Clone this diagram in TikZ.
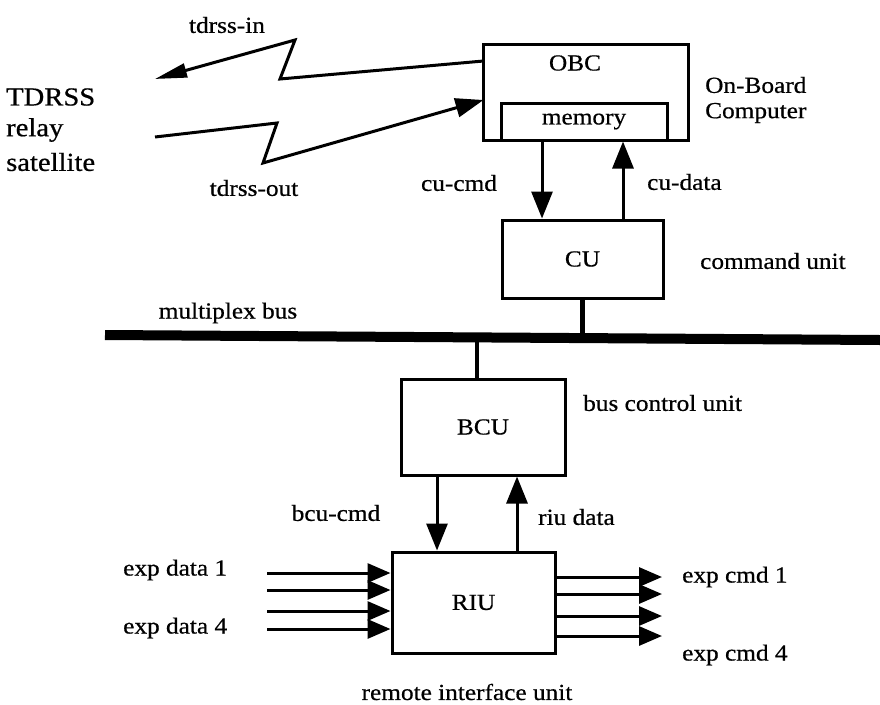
\documentclass[tikz,border=0pt]{standalone}
\usepackage{fontspec}
\setmainfont{Liberation Serif}[FakeStretch=1.1,FakeBold=0.6]
\usetikzlibrary{arrows.meta}
\begin{document}
\begin{tikzpicture}[x=1pt,y=-1pt,
  box/.style={draw,line width=3pt,inner sep=0pt,font=\fontsize{23}{26}\selectfont},
  txt/.style={inner sep=0pt,font=\fontsize{23}{26}\selectfont},
  bigtxt/.style={inner sep=0pt,anchor=west,font=\fontsize{26}{30}\selectfont},
  arr/.style={line width=3pt,-{Triangle[length=27pt,width=21pt]}},
  exparr/.style={line width=3pt,-{Triangle[length=23pt,width=19pt]}},
  zig/.style={line width=3pt,line join=miter},
  link/.style={line width=4.5pt}]
\useasboundingbox (0,0) rectangle (880,704);
% boxes
\node[box,minimum width=205pt,minimum height=96pt] (obc) at (585.5,92) {};
\node[txt] (obcl) at (575,63) {OBC};
\node[box,minimum width=166pt,minimum height=37pt] (mem) at (584,121.5) {memory};
\node[box,minimum width=161pt,minimum height=78pt] (cu) at (582.5,259) {CU};
\node[box,minimum width=164pt,minimum height=96pt] (bcu) at (483,427) {BCU};
\node[box,minimum width=163pt,minimum height=101pt] (riu) at (473.5,602.5) {RIU};
% side labels
\node[bigtxt] (t1) at (6,97) {TDRSS};
\node[bigtxt] (t2) at (6,130) {relay};
\node[bigtxt] (t3) at (6,162) {satellite};
\node[txt] (ltin) at (227,25) {tdrss-in};
\node[txt] (ltout) at (254,188) {tdrss-out};
\node[txt,anchor=west] (lob1) at (705,85) {On-Board};
\node[txt,anchor=west] (lob2) at (705,113) {Computer};
\node[txt] (lcmd) at (459,183) {cu-cmd};
\node[txt,anchor=west] (ldata) at (647,182) {cu-data};
\node[txt,anchor=west] (lcu) at (700,261) {command unit};
\node[txt] (lbus) at (228,313) {multiplex bus};
\node[txt,anchor=west] (lbcu) at (583,403) {bus control unit};
\node[txt] (lbcmd) at (336,513) {bcu-cmd};
\node[txt,anchor=west] (lriud) at (538,517) {riu data};
\node[txt,anchor=west] (led1) at (123,570) {exp data 1};
\node[txt,anchor=west] (led4) at (123,628) {exp data 4};
\node[txt,anchor=west] (lec1) at (682,577) {exp cmd 1};
\node[txt,anchor=west] (lec4) at (682,655) {exp cmd 4};
\node[txt] (lriu) at (467,692) {remote interface unit};
% bus
\coordinate (busL) at (105,335);
\coordinate (busR) at (880,340);
\draw[line width=10pt] (busL) -- (busR);
\draw[link] (cu.south) -- (cu.south |- busR);
\draw[link] ([xshift=-6pt]bcu.north) -- ([xshift=-6pt]bcu.north |- busR);
% OBC <-> CU
\draw[arr] ([xshift=-40.5pt]cu.north |- obc.south) -- ([xshift=-40.5pt]cu.north);
\draw[arr] ([xshift=40.5pt]cu.north) -- ([xshift=40.5pt]cu.north |- obc.south);
% BCU <-> RIU
\draw[arr] ([xshift=-36.5pt]riu.north |- bcu.south) -- ([xshift=-36.5pt]riu.north);
\draw[arr] ([xshift=43.5pt]riu.north) -- ([xshift=43.5pt]riu.north |- bcu.south);
% TDRSS links
\coordinate (obcIn) at (483.5,61);
\coordinate (obcOut) at (483.5,100);
\coordinate (satIn) at (155,79);
\coordinate (satOut) at (155,137);
\coordinate (zi1) at (280,79);
\coordinate (zi2) at (295,40);
\coordinate (zo1) at (277,123);
\coordinate (zo2) at (263,163);
\draw[zig,-{Triangle[length=32pt,width=14pt]}] (obcIn) -- (zi1) -- (zi2) -- (satIn);
\draw[zig,-{Triangle[length=28pt,width=19pt]}] (satOut) -- (zo1) -- (zo2) -- (obcOut);
% exp data inputs
\coordinate (i1) at (267,573);
\coordinate (i2) at (267,590);
\coordinate (i3) at (267,611);
\coordinate (i4) at (267,629);
\foreach \c in {i1,i2,i3,i4} \draw[exparr] (\c) -- (\c -| riu.west);
% exp cmd outputs
\coordinate (o1) at (662,577);
\coordinate (o2) at (662,594);
\coordinate (o3) at (662,616);
\coordinate (o4) at (662,636);
\foreach \c in {o1,o2,o3,o4} \draw[exparr] (\c -| riu.east) -- (\c);
\end{tikzpicture}
\end{document}
